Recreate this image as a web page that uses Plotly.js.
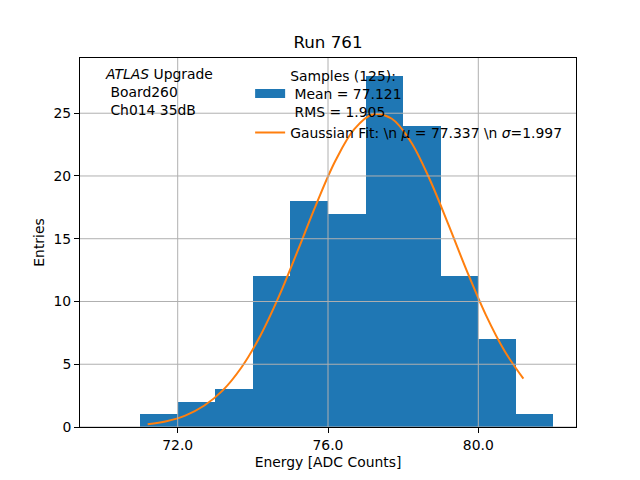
<!DOCTYPE html>
<html>
<head>
<meta charset="utf-8">
<script src="https://cdn.plot.ly/plotly-3.0.1.min.js"></script>
<style>html,body{margin:0;padding:0;background:#fff;}</style>
</head>
<body>
<div id="chart" style="width:640px;height:480px;"></div>
<script>
// Histogram bins (centres, width 1 ADC count) and entries
const binCenters = [71.5, 72.5, 73.5, 74.5, 75.5, 76.5, 77.5, 78.5, 79.5, 80.5, 81.5];
const binCounts  = [1, 2, 3, 12, 18, 17, 28, 24, 12, 7, 1];
const binWidth = 1.0;

// Gaussian fit curve
const fitX = [71.2, 71.7, 72.2, 72.7, 73.2, 73.7, 74.2, 74.7, 75.2, 75.7, 76.2,
              76.7, 77.2, 77.7, 78.2, 78.7, 79.2, 79.7, 80.2, 80.7, 81.2];
const fitY = [0.22, 0.46, 0.91, 1.69, 2.92, 4.76, 7.27, 10.44, 14.09, 17.84, 21.23,
              23.73, 24.91, 24.56, 22.75, 19.78, 16.16, 12.40, 8.93, 6.05, 3.85];

// Tick values
const xTicks = [72, 76, 80];
const yTicks = [0, 5, 10, 15, 20, 25];

const sampleLabel = "Samples (125):<br>\u00a0Mean = 77.121<br>\u00a0RMS = 1.905";
const fitLabel = "Gaussian Fit: \\n <i>\u03bc</i> = 77.337 \\n <i>\u03c3</i>=1.997";
const infoText = "<i>ATLAS</i> Upgrade<br>\u00a0Board260<br>\u00a0Ch014 35dB";

const FONT = "DejaVu Sans, sans-serif";
const BLUE = "#1f77b4";
const ORANGE = "#ff7f0e";

const traces = [
  {
    type: "bar",
    x: binCenters,
    y: binCounts,
    width: binCenters.map(() => binWidth),
    marker: {color: BLUE, line: {width: 0}},
    name: sampleLabel,
    showlegend: false,
    hoverinfo: "skip"
  },
  {
    // legend key only (patch-like wide swatch for the histogram), draws nothing
    type: "scatter",
    mode: "lines",
    x: [null],
    y: [null],
    line: {color: BLUE, width: 9},
    name: sampleLabel,
    showlegend: true,
    hoverinfo: "skip"
  },
  {
    type: "scatter",
    mode: "lines",
    x: fitX,
    y: fitY,
    line: {color: ORANGE, width: 2, shape: "spline"},
    name: fitLabel,
    hoverinfo: "skip"
  }
];

const gridColor = "#b0b0b0";
const shapes = [];
xTicks.forEach(v => shapes.push({type: "line", xref: "x", yref: "paper", x0: v, x1: v, y0: 0, y1: 1,
  line: {color: gridColor, width: 1}, layer: "above"}));
yTicks.forEach(v => shapes.push({type: "line", xref: "paper", yref: "y", x0: 0, x1: 1, y0: v, y1: v,
  line: {color: gridColor, width: 1}, layer: "above"}));

const layout = {
  width: 640, height: 480,
  margin: {l: 80, r: 64, t: 58, b: 53},
  paper_bgcolor: "#ffffff",
  plot_bgcolor: "#ffffff",
  font: {family: FONT, size: 13.9, color: "#000"},
  title: {text: "Run 761", font: {family: FONT, size: 16.7, color: "#000"},
          x: 0.5125, xanchor: "center", y: 0.912, yanchor: "middle"},
  bargap: 0,
  showlegend: true,
  legend: {
    x: 0.343, xanchor: "left", y: 0.995, yanchor: "top",
    bgcolor: "rgba(0,0,0,0)", borderwidth: 0,
    font: {family: FONT, size: 13.9, color: "#000"},
    tracegroupgap: 0
  },
  xaxis: {
    range: [69.4, 82.6],
    tickvals: xTicks, tickformat: ".1f",
    ticks: "outside", ticklen: 5, tickwidth: 1, tickcolor: "#000",
    showgrid: false, zeroline: false,
    showline: true, linecolor: "#000", linewidth: 1, mirror: true,
    tickfont: {family: FONT, size: 13.9, color: "#000"},
    title: {text: "Energy [ADC Counts]", font: {family: FONT, size: 13.9, color: "#000"}, standoff: 5}
  },
  yaxis: {
    range: [0, 29.4],
    tickvals: yTicks,
    ticks: "outside", ticklen: 5, tickwidth: 1, tickcolor: "#000",
    showgrid: false, zeroline: false,
    showline: true, linecolor: "#000", linewidth: 1, mirror: true,
    tickfont: {family: FONT, size: 13.9, color: "#000"},
    title: {text: "Entries", font: {family: FONT, size: 13.9, color: "#000"}, standoff: 5}
  },
  shapes: shapes,
  annotations: [
    {text: infoText, xref: "paper", yref: "paper", x: 0.046, y: 0.985,
     xanchor: "left", yanchor: "top", align: "left", showarrow: false,
     font: {family: FONT, size: 13.9, color: "#000"}}
  ]
};

Plotly.newPlot("chart", traces, layout, {staticPlot: true, displayModeBar: false});
</script>
</body>
</html>
